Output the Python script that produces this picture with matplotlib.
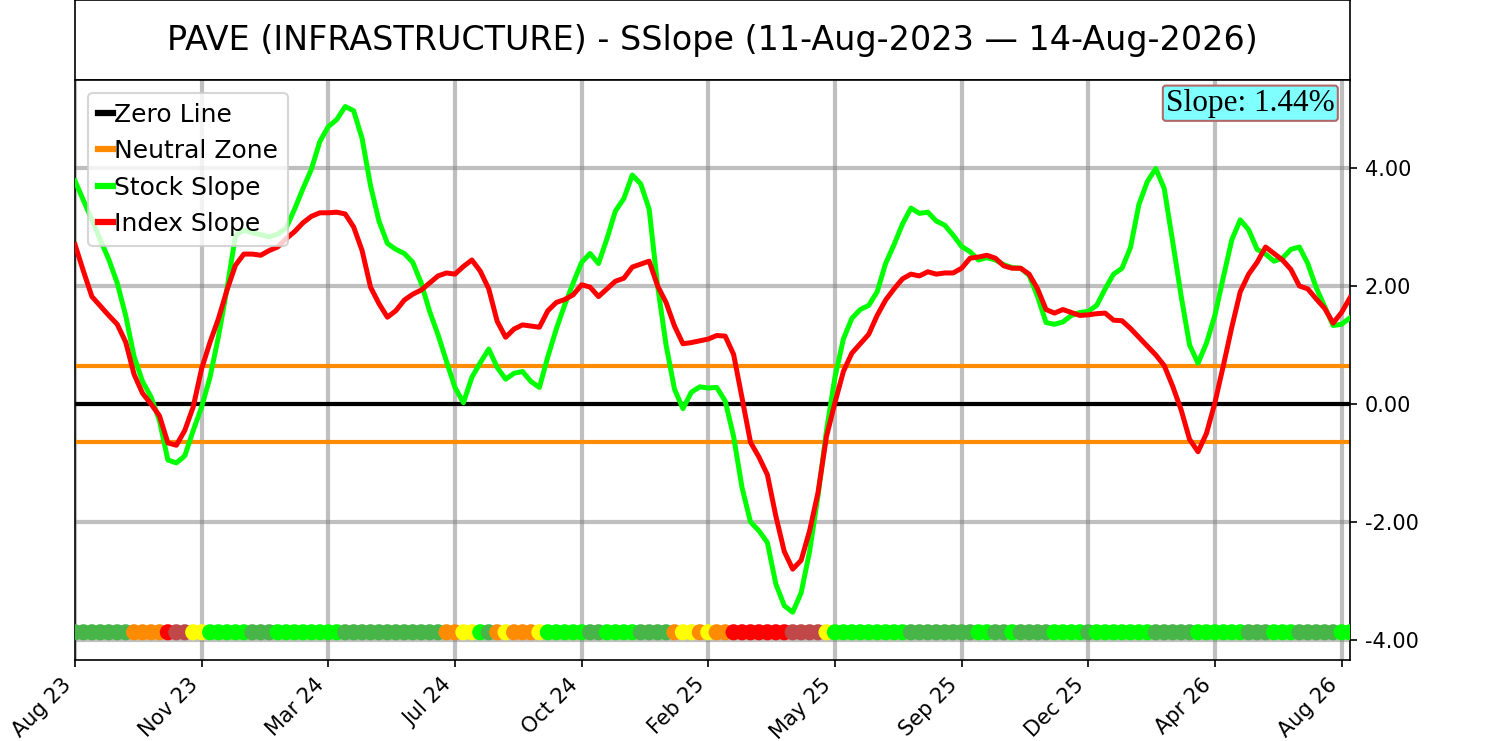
import matplotlib
matplotlib.use("Agg")
import matplotlib.pyplot as plt
from matplotlib.lines import Line2D
from matplotlib.ticker import FormatStrFormatter

# =========================
# Data (weekly readings, oldest first)
# =========================
stock_slope = [
    3.78, 3.45, 3.12, 2.78, 2.45, 2.05, 1.50, 0.80, 0.38, 0.12,
    -0.28, -0.95, -1.00, -0.88, -0.45, -0.05, 0.46, 1.15, 1.95, 2.85,
    2.95, 2.90, 2.87, 2.83, 2.88, 2.98, 3.30, 3.65, 3.98, 4.45,
    4.70, 4.82, 5.04, 4.97, 4.50, 3.70, 3.10, 2.72, 2.62, 2.55,
    2.40, 2.05, 1.57, 1.17, 0.72, 0.28, 0.02, 0.45, 0.70, 0.93,
    0.62, 0.42, 0.52, 0.55, 0.38, 0.28, 0.80, 1.27, 1.68, 2.05,
    2.40, 2.55, 2.38, 2.80, 3.27, 3.48, 3.88, 3.73, 3.30, 2.00,
    1.00, 0.25, -0.08, 0.20, 0.29, 0.27, 0.28, 0.05, -0.55, -1.42,
    -2.00, -2.15, -2.35, -3.05, -3.42, -3.53, -3.20, -2.50, -1.55, -0.45,
    0.45, 1.10, 1.45, 1.60, 1.67, 1.90, 2.38, 2.70, 3.05, 3.32,
    3.23, 3.25, 3.10, 3.03, 2.86, 2.67, 2.58, 2.44, 2.48, 2.44,
    2.36, 2.31, 2.30, 2.18, 1.82, 1.38, 1.35, 1.39, 1.50, 1.55,
    1.57, 1.67, 1.95, 2.20, 2.30, 2.65, 3.38, 3.77, 3.99, 3.65,
    2.75, 1.83, 1.00, 0.69, 1.03, 1.50, 2.15, 2.78, 3.12, 2.95,
    2.62, 2.54, 2.42, 2.47, 2.62, 2.66, 2.38, 1.97, 1.65, 1.33,
    1.35, 1.46,
]

index_slope = [
    2.70, 2.25, 1.82, 1.66, 1.50, 1.35, 1.05, 0.50, 0.18, 0.00,
    -0.20, -0.66, -0.70, -0.45, -0.05, 0.60, 1.05, 1.45, 1.93, 2.35,
    2.54, 2.54, 2.52, 2.60, 2.66, 2.80, 2.92, 3.07, 3.18, 3.24,
    3.24, 3.25, 3.22, 3.00, 2.60, 1.98, 1.70, 1.47, 1.58, 1.76,
    1.86, 1.93, 2.05, 2.17, 2.22, 2.20, 2.33, 2.44, 2.25, 1.95,
    1.40, 1.13, 1.27, 1.34, 1.32, 1.30, 1.58, 1.72, 1.77, 1.85,
    2.02, 1.98, 1.82, 1.95, 2.08, 2.13, 2.32, 2.37, 2.42, 2.00,
    1.72, 1.32, 1.02, 1.04, 1.07, 1.10, 1.16, 1.15, 0.84, 0.10,
    -0.65, -0.90, -1.20, -1.90, -2.50, -2.80, -2.65, -2.15, -1.50, -0.55,
    0.02, 0.55, 0.86, 1.02, 1.18, 1.50, 1.76, 1.95, 2.12, 2.20,
    2.17, 2.24, 2.20, 2.22, 2.22, 2.30, 2.47, 2.49, 2.52, 2.47,
    2.34, 2.30, 2.30, 2.20, 1.95, 1.60, 1.54, 1.60, 1.55, 1.50,
    1.51, 1.53, 1.54, 1.42, 1.41, 1.28, 1.13, 0.98, 0.83, 0.65,
    0.30, -0.10, -0.60, -0.81, -0.50, 0.02, 0.65, 1.30, 1.90, 2.20,
    2.40, 2.66, 2.55, 2.44, 2.28, 2.00, 1.95, 1.78, 1.62, 1.37,
    1.55, 1.80,
]

# signal per week: G=positive falling, L=positive rising, O=neutral falling,
# Y=neutral rising, R=negative falling, B=negative rising
signal = (
    "GGGGGGG" "OOOO" "R" "BB" "YY" "LLLLL" "GGG" "LLLLLLLL"
    "GGGGGGGGGGGG" "OO" "YY" "L" "G" "O" "Y" "OOO" "Y" "LLLLL"
    "GG" "LLLL" "GGGG" "O" "YY" "O" "Y" "OO" "RRRRRRR" "BBBB" "Y"
    "LLLLLLLLL" "GGGGGGGG" "LL" "GG" "L" "GGGG" "LLLL" "G" "LLLLLLL"
    "GGGGG" "LLLLLL" "GGG" "LLL" "GGGGG" "LL"
)

tick_labels = ['Aug 23', 'Nov 23', 'Mar 24', 'Jul 24', 'Oct 24', 'Feb 25',
               'May 25', 'Sep 25', 'Dec 25', 'Apr 26', 'Aug 26']

neutral_band = 0.65
slope_text = "Slope: 1.44%"
title = "PAVE (INFRASTRUCTURE) - SSlope (11-Aug-2023 \u2014 14-Aug-2026)"

# =========================
# Styles
# =========================
signal_colors = {
    'G': '#47b547',
    'L': '#00ff00',
    'O': '#ff8c00',
    'Y': '#ffff00',
    'R': '#ff0000',
    'B': '#c04848',
}


def build_graph():
    x = list(range(len(stock_slope)))
    tick_step = 15

    fig = plt.figure(figsize=(10, 4.94), dpi=150)

    # title box
    ax_t = fig.add_axes([0.05, 0.892, 0.85, 0.1075])
    ax_t.set_xticks([])
    ax_t.set_yticks([])
    ax_t.text(0.5, 0.5, title, ha='center', va='center', fontsize=16,
              transform=ax_t.transAxes)

    ax = fig.add_axes([0.05, 0.1093, 0.85, 0.7827])
    ax.grid(True, color='gray', alpha=0.5, linewidth=2)
    ax.set_axisbelow(True)

    ax.axhline(0, color='black', linewidth=2, zorder=2)
    ax.axhline(neutral_band, color='#ff8c00', linewidth=2, zorder=2)
    ax.axhline(-neutral_band, color='#ff8c00', linewidth=2, zorder=2)

    ax.plot(x, stock_slope, color='#00ff00', linewidth=2.4, zorder=3,
            solid_joinstyle='round')
    ax.plot(x, index_slope, color='#ff0000', linewidth=2.4, zorder=3,
            solid_joinstyle='round')

    dot_colors = [signal_colors[c] for c in signal]
    ax.scatter(x, [-3.87] * len(x), c=dot_colors, s=60, linewidths=0, zorder=4)

    ax.set_xlim(0, len(x) - 1)
    ax.set_ylim(-4.34, 5.49)

    ax.set_xticks(range(0, len(x), tick_step))
    ax.set_xticklabels(tick_labels, rotation=45, ha='right', fontsize=10)
    ax.set_yticks([-4, -2, 0, 2, 4])
    ax.yaxis.set_major_formatter(FormatStrFormatter('%.2f'))
    ax.yaxis.tick_right()
    ax.tick_params(axis='y', labelsize=10)

    handles = [
        Line2D([0], [0], color='black', linewidth=3),
        Line2D([0], [0], color='#ff8c00', linewidth=3),
        Line2D([0], [0], color='#00ff00', linewidth=3),
        Line2D([0], [0], color='#ff0000', linewidth=3),
    ]
    ax.legend(handles, ['Zero Line', 'Neutral Zone', 'Stock Slope', 'Index Slope'],
              loc='upper left', fontsize=12, handlelength=0.6, handletextpad=0.05)

    ax.text(0.988, 0.985, slope_text, transform=ax.transAxes, ha='right', va='top',
            fontsize=15, family='Liberation Serif', zorder=6,
            bbox=dict(boxstyle='round,pad=0.1', facecolor='#80ffff', edgecolor='#b06a6a'))

    fig.savefig('out.png', dpi=150)


if __name__ == "__main__":
    build_graph()
